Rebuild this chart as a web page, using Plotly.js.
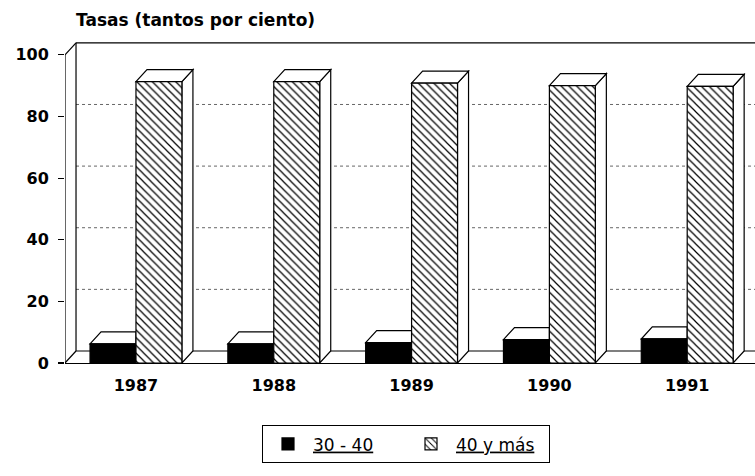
<!DOCTYPE html>
<html>
<head>
<meta charset="utf-8">
<script src="https://cdn.plot.ly/plotly-3.0.1.min.js"></script>
<style>html,body{margin:0;padding:0;background:#fff;}#chart{width:755px;height:476px;}</style>
</head>
<body>
<div id="chart"></div>
<script>
// ---- data ----
const years = ['1987', '1988', '1989', '1990', '1991'];
const tasa30a40 = [6.2, 6.2, 6.6, 7.6, 7.8];
const tasa40yMas = [91.3, 91.3, 90.8, 90.0, 89.8];
const seriesNames = ['<u>30 - 40</u>', '<u>40 y más</u>'];
const yTicks = [0, 20, 40, 60, 80, 100];
const titleText = 'Tasas (tantos por ciento)';

// ---- layout / 3D decoration parameters ----
const XL = -0.515, XR = 4.492;   // x range (category index units)
const YR = 104.5;                // y range top
const DX = 0.08, DY = 3.9;       // depth offset in data units
const HALF = 0.3333;             // each bar width

const xIdx = years.map((_, i) => i);

function P(pts) { return 'M' + pts.map(p => p[0] + ',' + p[1]).join('L') + 'Z'; }
const lineStyle = {color: '#000', width: 1.2};
const shapes = [];
// back wall dotted gridlines
yTicks.filter(v => v > 0 && v < 100).forEach(v => {
  shapes.push({type: 'line', xref: 'x', yref: 'y', layer: 'below',
    x0: XL + DX, x1: XR, y0: v + DY, y1: v + DY,
    line: {color: '#666', width: 1, dash: 'dot'}});
});
// back wall top, floor back edge, back wall left edge
shapes.push({type: 'line', xref: 'x', yref: 'y', layer: 'below', x0: XL + DX, x1: XR, y0: 100 + DY, y1: 100 + DY, line: lineStyle});
shapes.push({type: 'line', xref: 'x', yref: 'y', layer: 'below', x0: XL + DX, x1: XR, y0: DY, y1: DY, line: lineStyle});
shapes.push({type: 'line', xref: 'x', yref: 'y', layer: 'below', x0: XL + DX, x1: XL + DX, y0: DY, y1: 100 + DY, line: lineStyle});
// left wall diagonals and front axis line
shapes.push({type: 'line', xref: 'x', yref: 'y', layer: 'below', x0: XL, x1: XL + DX, y0: 100, y1: 100 + DY, line: lineStyle});
shapes.push({type: 'line', xref: 'x', yref: 'y', layer: 'below', x0: XL, x1: XL + DX, y0: 0, y1: DY, line: lineStyle});
shapes.push({type: 'line', xref: 'x', yref: 'y', layer: 'below', x0: XL, x1: XL, y0: 0, y1: 100, line: lineStyle});
// bar sides and caps
xIdx.forEach((i) => {
  const vb = tasa30a40[i], vh = tasa40yMas[i];
  const hx0 = i, hx1 = i + HALF;
  const bx0 = i - HALF, bx1 = i;
  shapes.push({type: 'path', xref: 'x', yref: 'y', layer: 'below', fillcolor: '#fff', line: lineStyle,
    path: P([[hx1, 0], [hx1 + DX, DY], [hx1 + DX, vh + DY], [hx1, vh]])});
  shapes.push({type: 'path', xref: 'x', yref: 'y', layer: 'below', fillcolor: '#fff', line: lineStyle,
    path: P([[hx0, vh], [hx0 + DX, vh + DY], [hx1 + DX, vh + DY], [hx1, vh]])});
  shapes.push({type: 'path', xref: 'x', yref: 'y', layer: 'below', fillcolor: '#fff', line: lineStyle,
    path: P([[bx0, vb], [bx0 + DX, vb + DY], [bx1, vb + DY], [bx1, vb]])});
});

const font = 'DejaVu Sans, Verdana, sans-serif';
const traces = [
  {type: 'bar', name: seriesNames[0], x: xIdx, y: tasa30a40,
   marker: {color: '#000', line: {color: '#000', width: 1.2}}, hoverinfo: 'skip'},
  {type: 'bar', name: seriesNames[1], x: xIdx, y: tasa40yMas,
   marker: {color: '#fff', line: {color: '#000', width: 1.2},
            pattern: {shape: '\\', fgcolor: '#000', bgcolor: '#fff', size: 5.5, solidity: 0.22}},
   hoverinfo: 'skip'}
];

const layout = {
  width: 755, height: 476,
  paper_bgcolor: '#fff', plot_bgcolor: 'rgba(0,0,0,0)',
  margin: {l: 65, r: 0, t: 41, b: 113},
  barmode: 'group', bargap: 0.3334, bargroupgap: 0,
  title: {text: titleText, x: 76 / 755, xanchor: 'left', xref: 'container', y: 1 - 20 / 476, yanchor: 'middle', yref: 'container',
          font: {family: font, size: 17, weight: 'bold', color: '#000'}},
  xaxis: {range: [XL, XR], tickvals: xIdx, ticktext: years, showgrid: false, zeroline: false,
          showline: true, linecolor: '#000', linewidth: 1.2, ticks: '', ticklabelstandoff: 8,
          tickfont: {family: font, size: 16, weight: 'bold', color: '#000'}, fixedrange: true},
  yaxis: {range: [0, YR], tickvals: yTicks, showgrid: false, zeroline: false, showline: false,
          ticks: 'outside', ticklen: 6, tickcolor: '#000', tickwidth: 1.2, ticklabelstandoff: 6,
          tickfont: {family: font, size: 16, weight: 'bold', color: '#000'}, fixedrange: true},
  showlegend: true,
  legend: {orientation: 'h', x: (262 - 65) / 690, xanchor: 'left', y: (363 - 425) / 320, yanchor: 'top',
           bordercolor: '#000', borderwidth: 1, bgcolor: '#fff', itemwidth: 40, entrywidth: 88,
           font: {family: font, size: 17, color: '#000'}, traceorder: 'normal'},
  shapes: shapes
};

Plotly.newPlot('chart', traces, layout, {displayModeBar: false, staticPlot: true});
</script>
</body>
</html>
